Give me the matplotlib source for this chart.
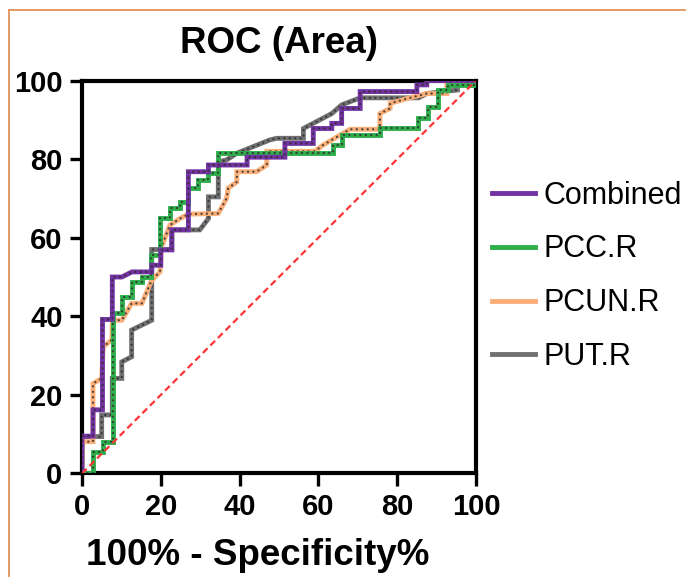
import matplotlib
matplotlib.use("Agg")
import matplotlib.pyplot as plt
from matplotlib.lines import Line2D

plt.rcParams['font.family'] = ['Liberation Sans', 'DejaVu Sans']

# ROC curves (100% - specificity, sensitivity), vertices
comb_x = [0, 0, 2.8, 2.8, 5.2, 5.2, 7.7, 7.7, 10.1, 12.7, 17.7, 17.7, 20, 20, 22.8, 22.8,
          27, 27, 32.1, 32.1, 41.9, 41.9, 51.5, 51.5, 58.7, 58.7, 63.4, 63.4, 65.9, 65.9,
          70.6, 70.6, 85, 85, 87.5, 87.5, 100]
comb_y = [0, 9.5, 9.5, 16.2, 16.2, 39.2, 39.2, 50, 50, 51.3, 51.3, 53, 53, 56.9, 56.9, 62,
          62, 76.8, 76.8, 78.5, 78.5, 80.5, 80.5, 84, 84, 87.8, 87.8, 89.1, 89.1, 92.9,
          92.9, 97.2, 97.2, 98.9, 98.9, 100, 100]

pcc_x = [0, 2.8, 2.8, 5.3, 5.3, 7.9, 7.9, 10.1, 10.1, 12.6, 12.6, 15.2, 15.2, 17.6, 17.6,
         19.8, 19.8, 22.3, 22.3, 24.9, 24.9, 27, 27, 29.5, 29.5, 32.1, 32.1, 34.4, 34.4,
         63.8, 63.8, 65.9, 65.9, 75.6, 75.6, 85.4, 85.4, 87.9, 87.9, 90.4, 90.4, 93, 93,
         100, 100]
pcc_y = [0, 0, 5.5, 5.5, 8.1, 8.1, 40.8, 40.8, 45, 45, 48.8, 48.8, 50, 50, 55.6, 55.6,
         64.9, 64.9, 67.5, 67.5, 69.2, 69.2, 72.6, 72.6, 74.7, 74.7, 76.4, 76.4, 81.5,
         81.5, 83.6, 83.6, 86.1, 86.1, 87.8, 87.8, 90.4, 90.4, 93.3, 93.3, 97.6, 97.6,
         98.9, 98.9, 100]

pcun_x = [0, 0, 2.8, 2.8, 5, 5.4, 7.6, 7.7, 10.1, 12.6, 15.2, 17.7, 19.8, 20.2, 22.3,
          24.9, 27, 34.6, 36.7, 37.1, 39.3, 39.3, 44.3, 46.9, 46.9, 59.1, 61.2, 68, 75.6,
          75.6, 78.2, 78.2, 82.8, 87.5, 92.6, 92.6, 100, 100]
pcun_y = [0, 8.1, 8.1, 22.9, 24.2, 32.3, 34, 39, 39, 43.3, 43.3, 49.2, 51.3, 57.7, 63.2,
          64.9, 66, 66.2, 70, 72.6, 74.2, 76.8, 76.8, 78.5, 82, 82, 83.6, 87.6, 87.6,
          91.6, 92.9, 94.2, 95.5, 96.7, 96.7, 98.9, 99.3, 100]

put_x = [0, 0, 5, 5, 7.7, 7.7, 10.1, 10.1, 12.6, 12.6, 17.7, 17.7, 22.8, 22.8, 29.9,
         32.1, 32.1, 34.6, 34.6, 36.7, 39.3, 47.7, 49.4, 56.2, 56.2, 63.4, 65.9, 70.6,
         85.4, 87.5, 95.3, 95.3, 100]
put_y = [0, 9.4, 9.4, 14.9, 14.9, 24.2, 24.2, 28.4, 29.7, 36.5, 39, 57, 57, 62, 62,
         64.9, 70.4, 70.4, 79.3, 79.8, 81.5, 84.9, 85.3, 85.3, 87.8, 91.6, 93.8, 95.6,
         95.6, 96.7, 97.6, 98.9, 100]

names = ['Combined', 'PCC.R', 'PCUN.R', 'PUT.R']
colors = ['#7232A2', '#2EAD4B', '#FAAE78', '#707072']
curves = [(comb_x, comb_y), (pcc_x, pcc_y), (pcun_x, pcun_y), (put_x, put_y)]
ticks = [0, 20, 40, 60, 80, 100]

fig = plt.figure(figsize=(6.86, 5.77), dpi=100)
ax = fig.add_axes([0.1195, 0.1794, 0.5744, 0.681])

# draw grey first, purple on top
for i in [3, 2, 1, 0]:
    xs, ys = curves[i]
    ax.plot(xs, ys, color=colors[i], lw=3.5, solid_joinstyle='miter', zorder=2 + (3 - i))
    ax.plot(xs, ys, color='#2e2e2e', lw=1.7, alpha=0.85,
            linestyle=(0, (0.01, 2.3)), dash_capstyle='round', zorder=2.5 + (3 - i))

ax.plot([0, 100], [0, 100], color='#FF3333', lw=1.6, linestyle=(0, (3, 1.8)), zorder=10)

ax.set_xlim(0, 100)
ax.set_ylim(0, 100)
ax.set_xticks(ticks)
ax.set_yticks(ticks)
for s in ax.spines.values():
    s.set_linewidth(3)
ax.tick_params(length=9, width=2.4, pad=5, labelsize=21)
for lab in ax.get_xticklabels() + ax.get_yticklabels():
    lab.set_fontweight('bold')

ax.set_title('ROC (Area)', fontsize=26.5, fontweight='bold', pad=20)
ax.set_xlabel('100% - Specificity%', fontsize=26.5, fontweight='bold')
ax.xaxis.set_label_coords(0.447, -0.163)

handles = [Line2D([], [], color=c, lw=3.5) for c in colors]
ax.legend(handles, names, loc='upper left', bbox_to_anchor=(0.717, 0.687),
          bbox_transform=fig.transFigure, frameon=False, fontsize=22,
          handlelength=1.4, handletextpad=0.3, labelspacing=0.78,
          borderpad=0, borderaxespad=0)

# thin orange frame at the top-left edge of the panel
fig.add_artist(Line2D([9 / 686, 9 / 686], [1 - 10 / 577, 0], color='#E0925A', lw=1.3,
                      transform=fig.transFigure))
fig.add_artist(Line2D([9 / 686, 1], [1 - 10 / 577, 1 - 10 / 577], color='#E0925A', lw=1.3,
                      transform=fig.transFigure))

fig.savefig('out.png', dpi=100)
